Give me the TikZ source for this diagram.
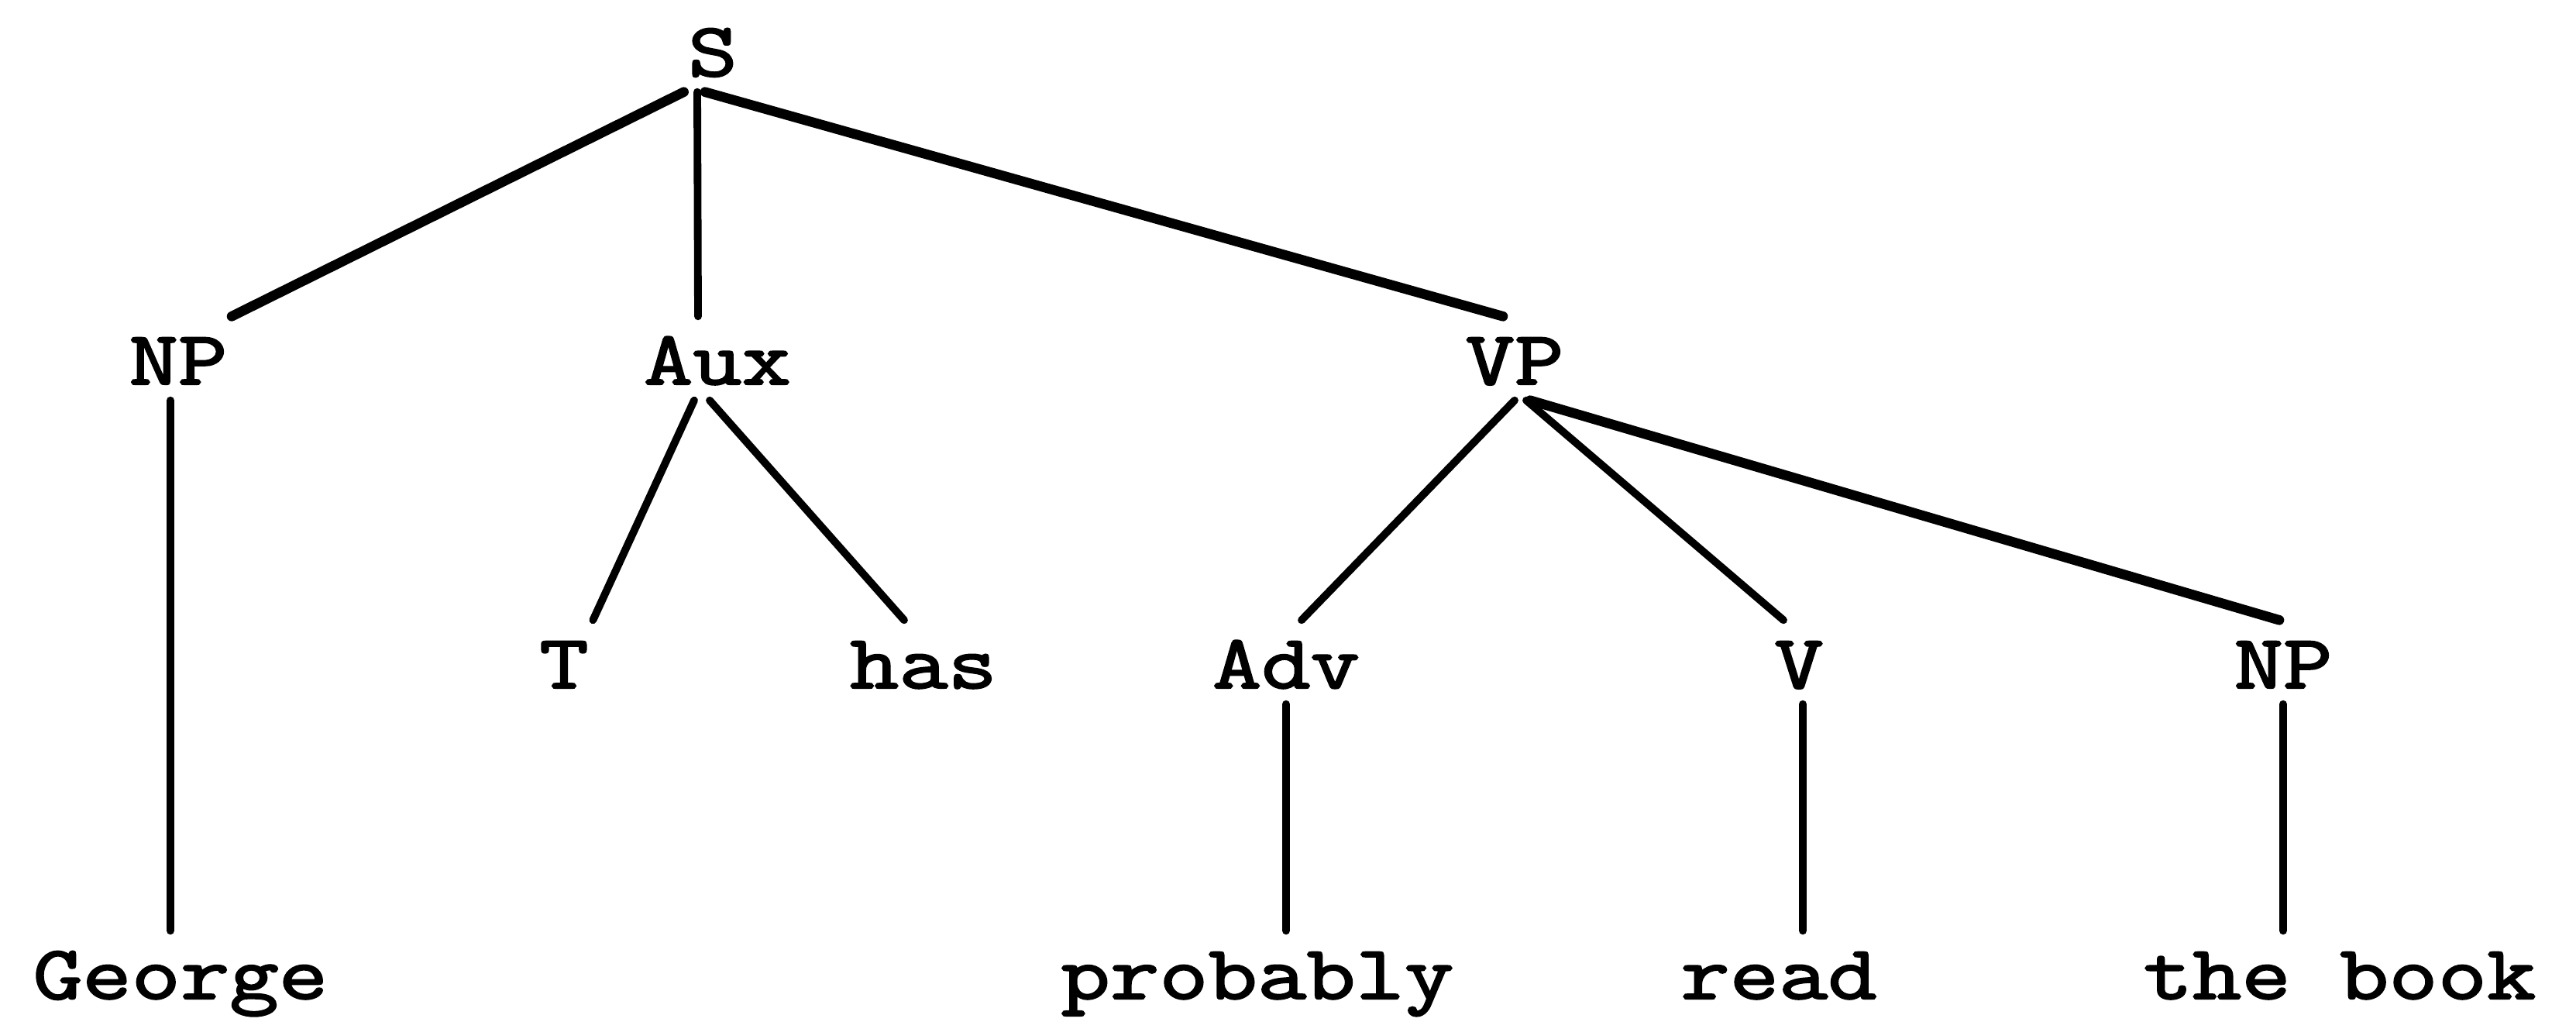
\documentclass[tikz,border=0pt]{standalone}
\usepackage{fontspec}
\setmonofont{Latin Modern Mono}[FakeStretch=1.25, FakeBold=2.4]
\usepackage{tikz}
\usetikzlibrary{positioning,calc}

\begin{document}
\begin{tikzpicture}[
    cat/.style = {font=\ttfamily\fontsize{28}{28}\selectfont, anchor=base, text height=0.72cm, text depth=0.05cm, inner xsep=0.05cm, inner ysep=0.15cm},
    line/.style = {draw, line width=2.8pt, line cap=round},
    heavy/.style = {draw, line width=3.6pt, line cap=round}
]
\useasboundingbox (0,0) rectangle (33.25,13.18);

% categories
\node[cat] (s) at (9.20,12.20) {S};
\node[cat] (np1) at (2.30,8.22) {NP};
\node[cat] (aux) at (9.26,8.22) {Aux};
\node[cat] (vp) at (19.55,8.22) {VP};
\node[cat] (t) at (7.28,4.30) {T};
\node[cat] (has) at (11.92,4.30) {has};
\node[cat] (adv) at (16.60,4.30) {Adv};
\node[cat] (v) at (23.22,4.30) {V};
\node[cat] (np2) at (29.47,4.30) {NP};

% words
\node[cat] (george) at (2.33,0.29) {George};
\node[cat] (probably) at (16.23,0.29) {probably};
\node[cat] (read) at (22.96,0.29) {read};
\node[cat] (thebook) at (30.20,0.29) {the book};

\path[heavy] (s.south west) -- (np1.north east);
\path[line] ([xshift=-2mm]s.south) -- ([xshift=-2.5mm]aux.north);
\path[heavy] ([xshift=-1mm]s.south) -- ([xshift=-1.5mm]vp.north);
\path[line] ([xshift=-1mm]np1.south) -- ([xshift=-1mm]np1.south |- george.north);
\path[line] ([xshift=-3mm]aux.south) -- (t.north east);
\path[line] ([xshift=-1mm]aux.south) -- ([xshift=-2.5mm]has.north);
\path[line] (vp.south) -- ([xshift=2mm]adv.north);
\path[line] ([xshift=1.5mm]vp.south) -- ([xshift=-2mm]v.north);
\path[heavy] ([xshift=2mm]vp.south) -- ([xshift=-0.5mm]np2.north);
\path[line] (adv.south) -- (adv.south |- probably.north);
\path[line] ([xshift=0.5mm]v.south) -- ([xshift=0.5mm]v.south |- read.north);
\path[line] (np2.south) -- (np2.south |- thebook.north);
\end{tikzpicture}
\end{document}
